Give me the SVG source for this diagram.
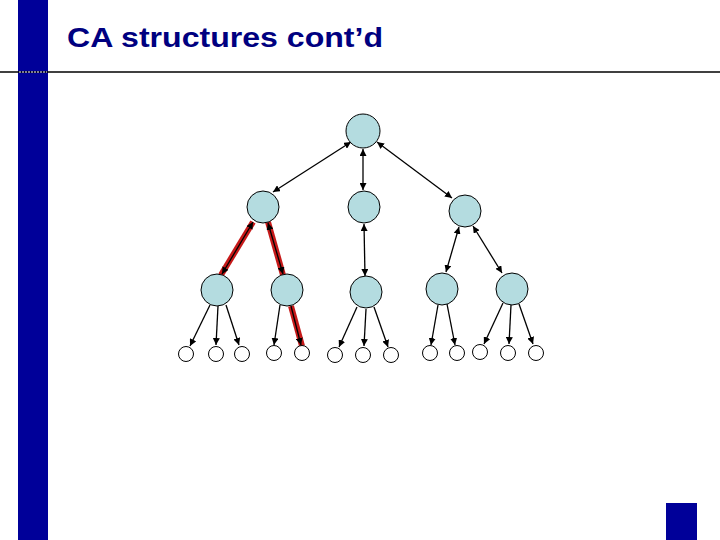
<svg xmlns="http://www.w3.org/2000/svg" width="720" height="540" viewBox="0 0 720 540">
<style>
.n{fill:#b4dce0;stroke:#000;stroke-width:1}
.l{fill:#fff;stroke:#000;stroke-width:1}
.e{stroke:#000;stroke-width:1.3;fill:none}
.h{stroke:#c00000;stroke-width:6;fill:none;stroke-opacity:0.9}
</style>
<defs>
<marker id="a" viewBox="0 0 10 10" refX="10" refY="5" markerWidth="7" markerHeight="7" orient="auto-start-reverse" markerUnits="userSpaceOnUse"><path d="M0,0L10,5L0,10z" fill="#000"/></marker>
</defs>
<rect width="720" height="540" fill="#fff"/>
<rect x="18" y="0" width="30" height="540" fill="#000099"/>
<line x1="0" y1="72" x2="720" y2="72" stroke="#000" stroke-width="1.5"/>
<line x1="19" y1="72" x2="47" y2="72" stroke="#fff" stroke-width="1" stroke-dasharray="2,1"/>
<rect x="666" y="503" width="31" height="37" fill="#000099"/>
<text x="67" y="47" font-family="Liberation Sans, Arial, sans-serif" font-weight="bold" font-size="28" textLength="316" lengthAdjust="spacingAndGlyphs" fill="#000080">CA structures cont’d</text>
<g id="highlights">
<line class="h" x1="253" y1="222" x2="221" y2="275"/>
<line class="h" x1="268" y1="222" x2="283" y2="275"/>
<line class="h" x1="291" y1="306" x2="302" y2="346"/>
</g>
<g id="connectors">
<line class="e" marker-start="url(#a)" marker-end="url(#a)" x1="351" y1="142" x2="273" y2="192"/>
<line class="e" marker-start="url(#a)" marker-end="url(#a)" x1="363" y1="149" x2="363" y2="190"/>
<line class="e" marker-start="url(#a)" marker-end="url(#a)" x1="377" y1="142" x2="452" y2="198"/>
<line class="e" marker-start="url(#a)" marker-end="url(#a)" x1="253" y1="222" x2="222" y2="274"/>
<line class="e" marker-start="url(#a)" marker-end="url(#a)" x1="268" y1="223" x2="283" y2="274"/>
<line class="e" marker-start="url(#a)" marker-end="url(#a)" x1="364" y1="224" x2="365" y2="276"/>
<line class="e" marker-start="url(#a)" marker-end="url(#a)" x1="459" y1="227" x2="446" y2="272"/>
<line class="e" marker-start="url(#a)" marker-end="url(#a)" x1="473" y1="226" x2="502" y2="273"/>
<line class="e" marker-end="url(#a)" x1="210" y1="305" x2="190" y2="346"/>
<line class="e" marker-end="url(#a)" x1="218" y1="306" x2="216" y2="345"/>
<line class="e" marker-end="url(#a)" x1="226" y1="305" x2="239" y2="345"/>
<line class="e" marker-end="url(#a)" x1="280" y1="305" x2="274" y2="345"/>
<line class="e" marker-end="url(#a)" x1="291" y1="306" x2="301" y2="345"/>
<line class="e" marker-end="url(#a)" x1="357" y1="307" x2="339" y2="347"/>
<line class="e" marker-end="url(#a)" x1="366" y1="309" x2="364" y2="346"/>
<line class="e" marker-end="url(#a)" x1="374" y1="307" x2="388" y2="347"/>
<line class="e" marker-end="url(#a)" x1="438" y1="305" x2="431" y2="345"/>
<line class="e" marker-end="url(#a)" x1="447" y1="304" x2="455" y2="345"/>
<line class="e" marker-end="url(#a)" x1="503" y1="303" x2="484" y2="344"/>
<line class="e" marker-end="url(#a)" x1="511" y1="305" x2="509" y2="344"/>
<line class="e" marker-end="url(#a)" x1="519" y1="304" x2="533" y2="344"/>
</g>
<g id="root"><circle class="n" cx="363" cy="131" r="17"/></g>
<g id="n2a"><circle class="n" cx="263" cy="207" r="16"/></g>
<g id="n2b"><circle class="n" cx="364" cy="207" r="16"/></g>
<g id="n2c"><circle class="n" cx="465" cy="211" r="16"/></g>
<g id="n3a"><circle class="n" cx="217" cy="290" r="16"/></g>
<g id="n3b"><circle class="n" cx="287" cy="290" r="16"/></g>
<g id="n3c"><circle class="n" cx="366" cy="292" r="16"/></g>
<g id="n3d"><circle class="n" cx="442" cy="289" r="16"/></g>
<g id="n3e"><circle class="n" cx="512" cy="289" r="16"/></g>
<g id="leaves">
<circle class="l" cx="186" cy="354" r="7.5"/>
<circle class="l" cx="216" cy="354" r="7.5"/>
<circle class="l" cx="242" cy="354" r="7.5"/>
<circle class="l" cx="274" cy="353" r="7.5"/>
<circle class="l" cx="302" cy="353" r="7.5"/>
<circle class="l" cx="335" cy="355" r="7.5"/>
<circle class="l" cx="363" cy="355" r="7.5"/>
<circle class="l" cx="391" cy="355" r="7.5"/>
<circle class="l" cx="430" cy="353" r="7.5"/>
<circle class="l" cx="457" cy="353" r="7.5"/>
<circle class="l" cx="480" cy="352" r="7.5"/>
<circle class="l" cx="508" cy="353" r="7.5"/>
<circle class="l" cx="536" cy="353" r="7.5"/>
</g>
</svg>
